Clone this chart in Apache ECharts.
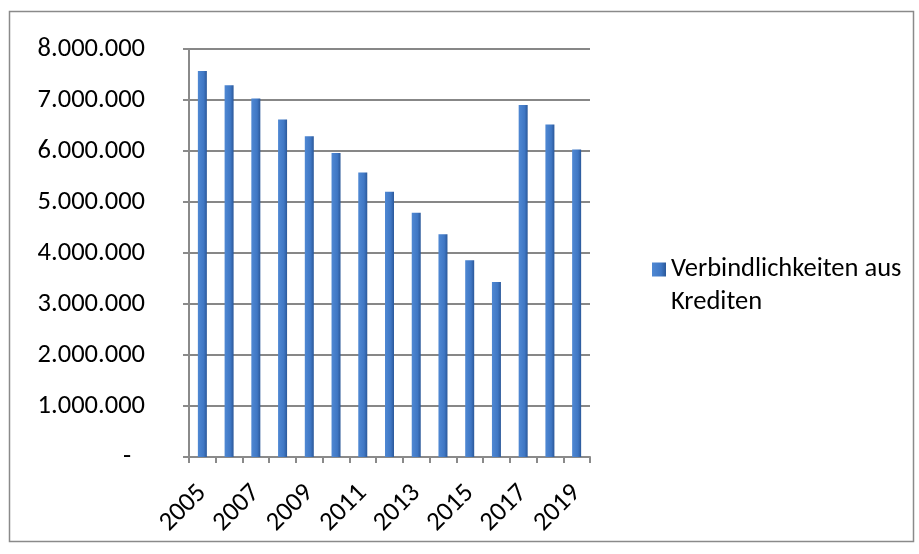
<!DOCTYPE html>
<html>
<head>
<meta charset="utf-8">
<script src="https://cdn.jsdelivr.net/npm/echarts@6/dist/echarts.min.js"></script>
<style>
html,body{margin:0;padding:0;background:#fff;}
#chart{width:919px;height:554px;}
</style>
</head>
<body>
<div id="chart"></div>
<script>
var years = ['2005','2006','2007','2008','2009','2010','2011','2012','2013','2014','2015','2016','2017','2018','2019'];
var seriesName = 'Verbindlichkeiten aus Krediten';
var legendLines = ['Verbindlichkeiten aus', 'Krediten'];
var values = [7570000, 7290000, 7030000, 6620000, 6290000, 5960000, 5580000, 5200000, 4790000, 4370000, 3860000, 3430000, 6900000, 6520000, 6030000];
var yTickValues = [0, 1000000, 2000000, 3000000, 4000000, 5000000, 6000000, 7000000, 8000000];
var yTickLabels = ['-', '1.000.000', '2.000.000', '3.000.000', '4.000.000', '5.000.000', '6.000.000', '7.000.000', '8.000.000'];

var FONT = 'Carlito, "Open Sans", sans-serif';
var FS = 26.5;
var chart = echarts.init(document.getElementById('chart'), null, {renderer: 'canvas'});
chart.setOption({
  animation: false,
  backgroundColor: '#ffffff',
  textStyle: {fontFamily: FONT},
  graphic: [{
    type: 'rect',
    shape: {x: 9.5, y: 11.5, width: 904, height: 530},
    style: {fill: 'none', stroke: '#8a8a8a', lineWidth: 1.5},
    silent: true
  }],
  legend: {
    orient: 'vertical',
    left: 652,
    top: 220,
    padding: 0,
    itemWidth: 14,
    itemHeight: 14,
    icon: 'rect',
    formatter: function () { return '\n' + legendLines.join('\n'); },
    textStyle: {fontFamily: FONT, fontSize: FS, color: '#000', lineHeight: 33},
    data: [seriesName]
  },
  grid: {left: 189, right: 329, top: 49, bottom: 97, containLabel: false},
  xAxis: {
    type: 'category',
    data: years,
    boundaryGap: true,
    axisLine: {lineStyle: {color: '#8a8a8a', width: 2}},
    axisTick: {show: true, interval: 0, length: 6, lineStyle: {color: '#8a8a8a', width: 2}},
    axisLabel: {interval: 1, rotate: 45, margin: 32, fontFamily: FONT, fontSize: FS, color: '#000'},
    splitLine: {show: false}
  },
  yAxis: {
    type: 'value',
    min: 0,
    max: 8000000,
    interval: 1000000,
    axisLine: {show: true, lineStyle: {color: '#8a8a8a', width: 2}},
    axisTick: {show: true, length: 6, lineStyle: {color: '#8a8a8a', width: 2}},
    axisLabel: {
      margin: 44,
      fontFamily: FONT, fontSize: FS, color: '#000',
      formatter: function (v) {
        var i = yTickValues.indexOf(v);
        var t = i >= 0 ? yTickLabels[i] : '';
        return v === 0 ? '{d|' + t + '}' : t;
      },
      rich: {d: {fontFamily: FONT, fontSize: FS, color: '#000', padding: [0, 14, 0, 0]}}
    },
    splitLine: {show: true, lineStyle: {color: '#878787', width: 2}}
  },
  series: [{
    name: seriesName,
    type: 'bar',
    data: values,
    barWidth: 9,
    itemStyle: {
      color: new echarts.graphic.LinearGradient(0, 0, 1, 0, [
        {offset: 0, color: '#4f88d3'},
        {offset: 0.65, color: '#3f77c4'},
        {offset: 1, color: '#2b5899'}
      ])
    }
  }]
});
</script>
</body>
</html>
